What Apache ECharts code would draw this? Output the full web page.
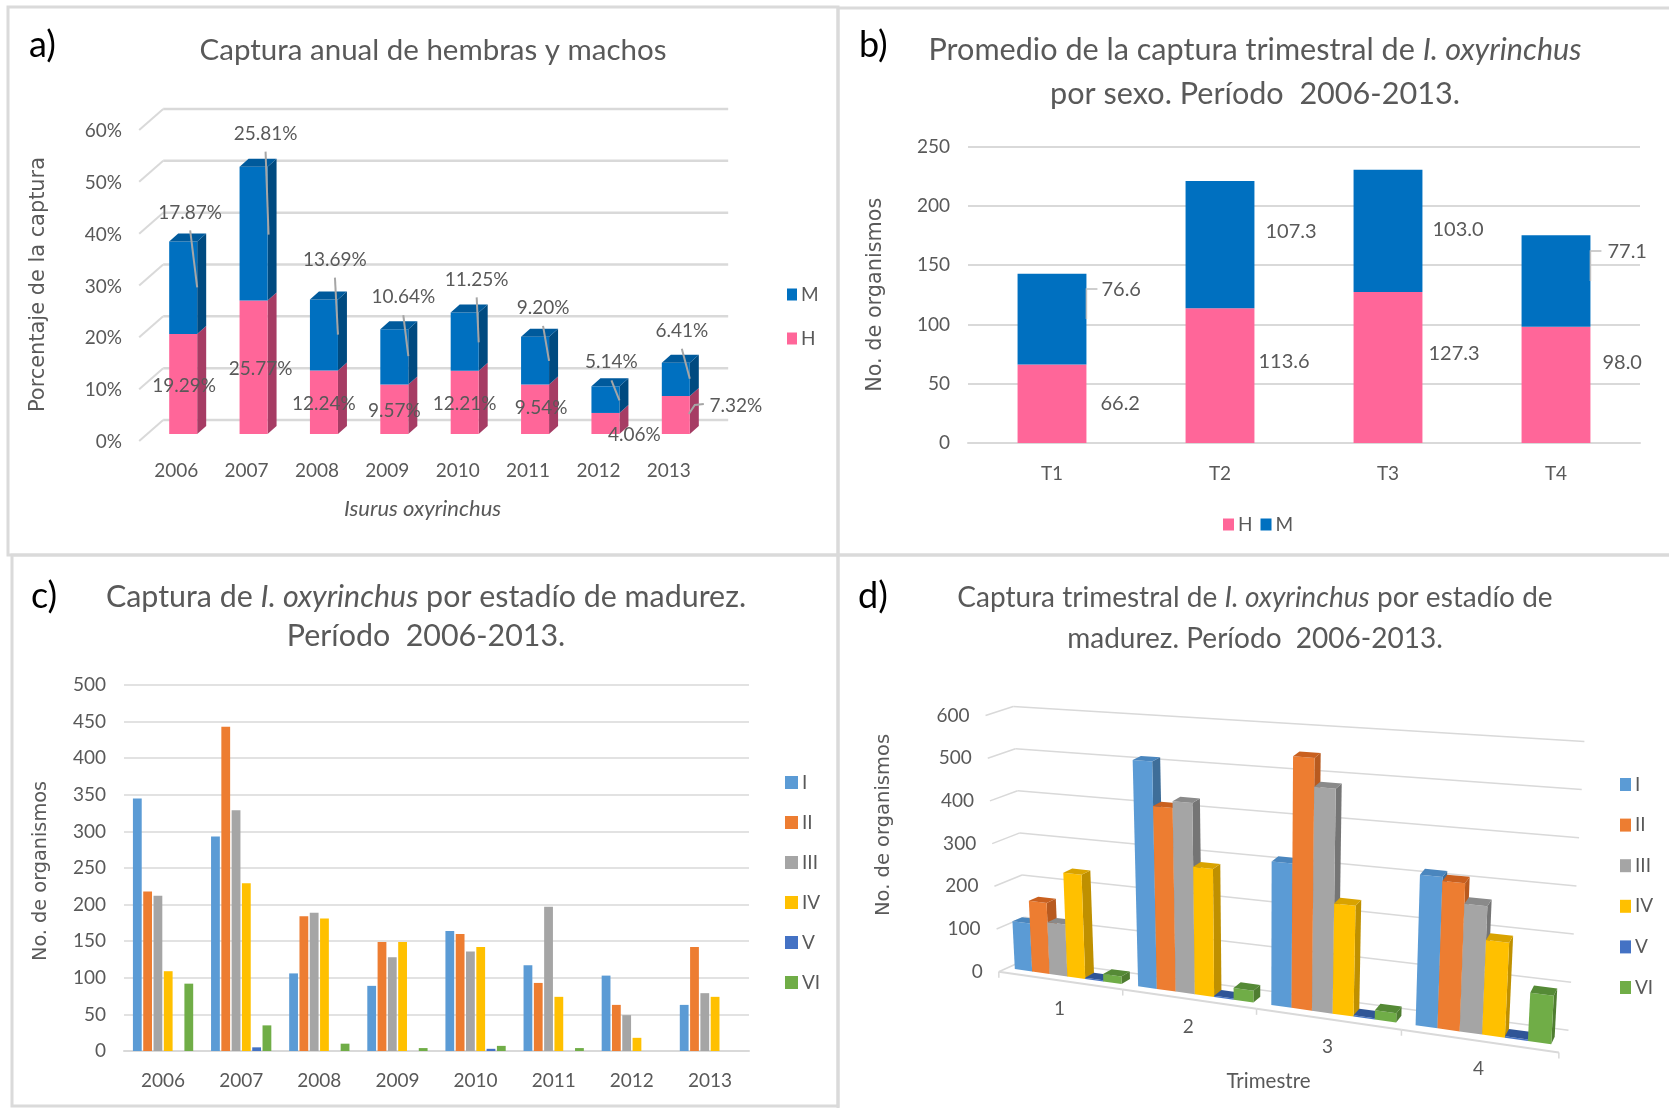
<!DOCTYPE html>
<html>
<head>
<meta charset="utf-8">
<style>html,body{margin:0;padding:0;background:#fff}#c{width:1669px;height:1108px}</style>
<script src="https://cdn.jsdelivr.net/npm/echarts@6/dist/echarts.min.js"></script>
</head>
<body>
<div id="c"></div>
<script>
// ---- data ----
const years = ['2006','2007','2008','2009','2010','2011','2012','2013'];
const hembrasPct = [19.29,25.77,12.24,9.57,12.21,9.54,4.06,7.32];
const machosPct = [17.87,25.81,13.69,10.64,11.25,9.20,5.14,6.41];
const pctTicks = [0,10,20,30,40,50,60];

const trimestres = ['T1','T2','T3','T4'];
const hembrasTri = [66.2,113.6,127.3,98.0];
const machosTri = [76.6,107.3,103.0,77.1];

const estadios = ['I','II','III','IV','V','VI'];
const estadioAnual = [
  [345,293,106,89,164,117,103,63],
  [218,443,184,149,160,93,63,142],
  [212,329,189,128,136,197,49,79],
  [109,229,181,149,142,74,18,74],
  [0,5,0,0,3,0,0,0],
  [92,35,10,4,7,4,0,0]
];
const trimestreNum = ['1','2','3','4'];
const estadioTri = [
  [112,515,316,320],
  [165,414,551,312],
  [120,429,488,269],
  [240,286,239,198],
  [3,3,3,3],
  [17,26,20,100]
];
const ticks3d = [0,100,200,300,400,500,600];

// ---- styles / layout ----
const NARROW = 'Lato,sans-serif';
const WIDE = '"DejaVu Sans",sans-serif';
const TXT = '#595959', GRID = '#D9D9D9';
const PINK = '#FF6699', PINK_S = '#A63C64', BLUE = '#0070C0', BLUE_S = '#004A80', BLUE_T = '#005A9C';
const STAGE = ['#5B9BD5','#ED7D31','#A5A5A5','#FFC000','#4472C4','#70AD47'];
const STAGE_S = ['#3E6E99','#B85A1F','#757575','#BF9000','#2F5597','#4F7D31'];
const STAGE_T = ['#4A86BE','#C9601F','#8A8A8A','#D9A300','#2F5597','#558A36'];
const FS_TICK = 19, FS_LABEL = 19;

// offsets of a) labels relative to top-centre of the bar segment
const mLabelOff = [[7,-29],[12,-33],[11,-40],[9,-32],[12,-33],[8,-29],[6,-24],[6,-32]];
const mLeaderEnd = [[14,46],[15,68],[14,35],[14,27],[14,30],[14,24],[14,14],[14,16]];
const hLabelOff = [[1,52],[7,68],[0,33],[0,26],[0,33],[6,23],[29,22],[60,10]];
// offsets of b) labels
const bHOff = [[14,0],[4,-14],[6,-14],[12,-22]];
const bMOff = [[15,-30],[11,-13],[10,-1],[17,-30]];
const bLeaders = [0,3];

// ---- helpers ----
const BAR_A = 28, DX_A = 9, DY_A = 8, SHIFT_A = 7;
function poly(points, fill){ return {type:'polygon', shape:{points}, style:{fill}, silent:true}; }
function seg(pts, stroke, w){ return {type:'polyline', shape:{points:pts}, style:{stroke, lineWidth:w, fill:null}, silent:true}; }
function txt(text,x,y,align,size,fill){ return {type:'text', silent:true, style:{text,x,y,textAlign:align||'center',textVerticalAlign:'middle',font:(size||FS_LABEL)+'px '+NARROW,fill:fill||TXT}}; }

function bar3dA(front, side, top){
  return function(params, api){
    const i = api.value(0);
    const a = api.coord([i, api.value(1)]), b = api.coord([i, api.value(2)]);
    const x0 = a[0]+SHIFT_A-BAR_A/2, x1 = x0+BAR_A, y0 = a[1], y1 = b[1];
    const ch = [
      poly([[x1,y0],[x1+DX_A,y0-DY_A],[x1+DX_A,y1-DY_A],[x1,y1]], side),
      poly([[x0,y0],[x1,y0],[x1,y1],[x0,y1]], front)
    ];
    if(top) ch.push(poly([[x0,y1],[x1,y1],[x1+DX_A,y1-DY_A],[x0+DX_A,y1-DY_A]], top));
    return {type:'group', children:ch};
  };
}

// d) projection: a hidden grid carries the scales; its plane is warped to the tilted view.
const GD = {left:940, top:650, width:657, height:350};
function warp(api, t, v, d){
  const p = api.coord([t, v]);
  const tn = (p[0]-GD.left)/GD.width*4, vn = (GD.top+GD.height-p[1])/GD.height*600;
  const fx = (213*tn+308)/(1-0.0369*tn);
  const s = (fx-308)/1054;
  const hb = (710+102*s)/600;
  const hpu = hb*(1+0.014*(1-d));
  const lean = (-25+55*s)/600;
  const X = fx + d*(52-34*s) + vn*lean;
  const Y = 1185+227*s + d*(-35-27*s) - vn*hpu;
  return [835+X/1.88, 550+Y/2.81];
}
const D0=0.3, D1=0.65, GAP_D=0.065, W_D=(1-2*GAP_D)/6;
function bar3dD(j){
  return function(params, api){
    const i=api.value(0), v=api.value(1);
    const t0=i+GAP_D+j*W_D, t1=t0+W_D;
    return {type:'group', children:[
      poly([warp(api,t1,0,D0),warp(api,t1,0,D1),warp(api,t1,v,D1),warp(api,t1,v,D0)], STAGE_S[j]),
      poly([warp(api,t0,0,D0),warp(api,t1,0,D0),warp(api,t1,v,D0),warp(api,t0,v,D0)], STAGE[j]),
      poly([warp(api,t0,v,D0),warp(api,t1,v,D0),warp(api,t1,v,D1),warp(api,t0,v,D1)], STAGE_T[j])
    ]};
  };
}

// ---- series ----
const series = [];
// a) wall
series.push({type:'custom', name:'wallA', xAxisIndex:0, yAxisIndex:0, silent:true, z:1,
  data: pctTicks.map(v=>[0,v]),
  renderItem(params, api){
    const p = api.coord([0, api.value(1)]);
    return {type:'group', children:[
      seg([[p[0]-37,p[1]+7],[p[0]-13,p[1]-14]], GRID, 2),
      seg([[p[0]-13,p[1]-14],[p[0]+552,p[1]-14]], GRID, 2.5)
    ]};
  }});
series.push({type:'custom', name:'H', xAxisIndex:0, yAxisIndex:0, z:3, itemStyle:{color:PINK},
  data: hembrasPct.map((v,i)=>[i,0,v]), renderItem: bar3dA(PINK,PINK_S,null), encode:{x:0,y:[1,2]}});
series.push({type:'custom', name:'M', xAxisIndex:0, yAxisIndex:0, z:3, itemStyle:{color:BLUE},
  data: machosPct.map((v,i)=>[i,hembrasPct[i],hembrasPct[i]+v]), renderItem: bar3dA(BLUE,BLUE_S,BLUE_T), encode:{x:0,y:[1,2]}});
series.push({type:'custom', name:'labelsA', xAxisIndex:0, yAxisIndex:0, silent:true, z:5,
  data: years.map((y,i)=>[i]),
  renderItem(params, api){
    const i = api.value(0);
    const h = hembrasPct[i], m = machosPct[i];
    const tm = api.coord([i,h+m]), th = api.coord([i,h]);
    const cx = tm[0]+SHIFT_A;
    const lm = [cx+mLabelOff[i][0], tm[1]+mLabelOff[i][1]];
    const lh = [cx+hLabelOff[i][0], th[1]+hLabelOff[i][1]];
    const ch = [
      seg([[lm[0],lm[1]+18],[cx+mLeaderEnd[i][0],tm[1]+mLeaderEnd[i][1]]], '#A6A6A6', 2),
      txt(m.toFixed(2)+'%', lm[0], lm[1]),
      txt(h.toFixed(2)+'%', lh[0], lh[1])
    ];
    if(i===7) ch.unshift(seg([[lh[0]-32,lh[1]-2],[lh[0]-41,lh[1]-1],[lh[0]-47,lh[1]+8]], '#A6A6A6', 2));
    return {type:'group', children:ch};
  }});

// b)
function barLabel(off){ return {show:true, position:'right', distance:off[0], offset:[0,off[1]], color:TXT, fontFamily:NARROW, fontSize:FS_LABEL+1, formatter:p=>p.value.toFixed(1)}; }
series.push({type:'bar', name:'H', xAxisIndex:1, yAxisIndex:1, stack:'b', barWidth:'41%', itemStyle:{color:PINK}, z:3,
  data: hembrasTri.map((v,i)=>({value:v,label:barLabel(bHOff[i])}))});
series.push({type:'bar', name:'M', xAxisIndex:1, yAxisIndex:1, stack:'b', barWidth:'41%', itemStyle:{color:BLUE}, z:3,
  data: machosTri.map((v,i)=>({value:v,label:barLabel(bMOff[i])}))});
series.push({type:'custom', name:'leadersB', xAxisIndex:1, yAxisIndex:1, silent:true, z:4,
  data: bLeaders.map(i=>[i]),
  renderItem(params, api){
    const i = api.value(0), h = hembrasTri[i], m = machosTri[i];
    const mid = api.coord([i,h+m/2]);
    const bw = api.size([1,0])[0]*0.41/2;
    const x = mid[0]+bw, y = mid[1]+bMOff[i][1];
    return seg([[x,mid[1]],[x,y],[x+11,y]], '#BFBFBF', 1.5);
  }});

// c)
estadios.forEach((n,j)=>{
  series.push({type:'bar', name:n, xAxisIndex:2, yAxisIndex:2, data:estadioAnual[j], itemStyle:{color:STAGE[j]},
    barWidth:8.8, barGap:'17%', z:3});
});

// d)
series.push({type:'custom', name:'frameD', xAxisIndex:3, yAxisIndex:3, silent:true, z:1,
  data: ticks3d.map(v=>[0,v]),
  renderItem(params, api){
    const v = api.value(1);
    const a = warp(api,0,v,0);
    return {type:'group', children:[
      seg([a, warp(api,0,v,1)], GRID, 1.5),
      seg([warp(api,0,v,1), warp(api,4,v,1)], GRID, 1.5),
      txt(String(v), a[0]-16, a[1], 'right', FS_TICK)
    ]};
  }});
series.push({type:'custom', name:'floorD', xAxisIndex:3, yAxisIndex:3, silent:true, z:1,
  data: [0,1,2,3,4].map(t=>[t]),
  renderItem(params, api){
    const t = api.value(0);
    const a = warp(api,t,0,0);
    const ch = [seg([a,[a[0],a[1]+6]], GRID, 1.5)];
    if(t<4){
      ch.push(seg([a, warp(api,t+1,0,0)], GRID, 2));
      const m = warp(api,t+0.5,0,0);
      ch.push(txt(trimestreNum[t], m[0], m[1]+28, 'center', FS_TICK));
    }
    return {type:'group', children:ch};
  }});
estadios.forEach((n,j)=>{
  series.push({type:'custom', name:n, xAxisIndex:3, yAxisIndex:3, z:3, itemStyle:{color:STAGE[j]},
    data: estadioTri[j].map((v,i)=>[i,v]), renderItem: bar3dD(j), encode:{x:0,y:1}});
});

// ---- option ----
function title(left, top, lh, fs, text){
  const s = {color:TXT, fontFamily:NARROW, fontSize:fs, lineHeight:lh};
  return {left, top, textAlign:'center', padding:0, text,
    textStyle:{color:TXT, fontFamily:NARROW, fontSize:fs, fontWeight:'normal', lineHeight:lh, rich:{a:s, i:Object.assign({},s,{fontStyle:'italic'})}}};
}
function legend(items, left, top, orient, gap, w, h){
  return {data:items, left, top, orient, itemGap:gap, itemWidth:w, itemHeight:h, icon:'rect', selectedMode:false, padding:0,
    textStyle:{color:TXT, fontFamily:NARROW, fontSize:FS_TICK, padding:[0,0,0,-1]}};
}
const axLabel = m => ({color:TXT, fontFamily:NARROW, fontSize:FS_TICK, margin:m});
const axName = (n,gap,fs,extra) => Object.assign({name:n, nameLocation:'middle', nameGap:gap, nameTextStyle:Object.assign({color:TXT, fontFamily:WIDE, fontSize:fs}, extra||{})});
const letter = (t,x,y)=>({type:'text', silent:true, style:{text:t,x,y,fill:'#000',font:'36px '+NARROW,textVerticalAlign:'middle'}});
const panel = (x,y,w,h)=>({type:'rect', silent:true, shape:{x,y,width:w,height:h}, style:{fill:null,stroke:'#DADADA',lineWidth:3}, z:-1});

const option = {
  animation:false, backgroundColor:'#fff',
  title:[
    title(433, 31, 38, 29.5, 'Captura anual de hembras y machos'),
    title(1255, 28, 44, 30.6, '{a|Promedio de la captura trimestral de }{i|I. oxyrinchus}\n{a|por sexo. Período  2006-2013.}'),
    title(426, 577, 39.5, 30.4, '{a|Captura de }{i|I. oxyrinchus}{a| por estadío de madurez.}\n{a|Período  2006-2013.}'),
    title(1255, 577, 41, 28, '{a|Captura trimestral de }{i|I. oxyrinchus}{a| por estadío de}\n{a|madurez. Período  2006-2013.}')
  ],
  legend:[
    legend(['M','H'], 787, 285, 'vertical', 25, 10, 12),
    legend(['H','M'], 1223, 515, 'horizontal', 8, 11, 12),
    legend(estadios, 785, 773, 'vertical', 21, 13, 13),
    legend(estadios, 1620, 775, 'vertical', 21.6, 11, 13)
  ],
  grid:[
    {left:141, width:563, top:123, height:311},
    {left:968, width:672, top:146.5, height:296.5},
    {left:124, width:625, top:685, height:366},
    {left:GD.left, width:GD.width, top:GD.top, height:GD.height}
  ],
  xAxis:[
    {gridIndex:0, type:'category', data:years, axisLine:{show:false}, axisTick:{show:false}, axisLabel:axLabel(27),
      name:'Isurus oxyrinchus', nameLocation:'middle', nameGap:64, nameTextStyle:{color:TXT, fontFamily:NARROW, fontSize:22, fontStyle:'italic'}},
    {gridIndex:1, type:'category', data:trimestres, axisLine:{lineStyle:{color:GRID,width:2}}, axisTick:{show:false}, axisLabel:axLabel(21)},
    {gridIndex:2, type:'category', data:years, axisLine:{lineStyle:{color:GRID,width:2}}, axisTick:{show:false}, axisLabel:axLabel(20)},
    {gridIndex:3, type:'value', min:0, max:4, interval:1, axisLine:{show:false}, axisTick:{show:false}, axisLabel:{show:false}, splitLine:{show:false},
      name:'Trimestre', nameLocation:'middle', nameGap:71, nameTextStyle:{color:TXT, fontFamily:NARROW, fontSize:20.5}}
  ],
  yAxis:[
    Object.assign({gridIndex:0, type:'value', min:0, max:60, interval:10, splitLine:{show:false}, axisLine:{show:false}, axisTick:{show:false},
      axisLabel:Object.assign(axLabel(19),{formatter:'{value}%', verticalAlign:'top', lineHeight:16})}, axName('Porcentaje de la captura',92,20.9,{padding:[0,12,0,0]})),
    Object.assign({gridIndex:1, type:'value', min:0, max:250, interval:50, splitLine:{lineStyle:{color:GRID,width:2}}, axisLine:{show:false}, axisTick:{show:false},
      axisLabel:axLabel(18)}, axName('No. de organismos',82,20.8)),
    Object.assign({gridIndex:2, type:'value', min:0, max:500, interval:50, splitLine:{lineStyle:{color:GRID,width:1.5}}, axisLine:{show:false}, axisTick:{show:false},
      axisLabel:axLabel(18)}, axName('No. de organismos',74,19.3,{padding:[0,6,0,0]})),
    Object.assign({gridIndex:3, type:'value', min:0, max:600, interval:100, splitLine:{show:false}, axisLine:{show:false}, axisTick:{show:false},
      axisLabel:{show:false}}, axName('No. de organismos',46,19.5))
  ],
  series,
  graphic:[
    panel(8,7,830,548), panel(838,8,840,547), panel(12,555,826,551), panel(838,555,840,560),
    letter('a)',29,45), letter('b)',859,45), letter('c)',31,596), letter('d)',858,596)
  ]
};
const chart = echarts.init(document.getElementById('c'), null, {renderer:'canvas'});
chart.setOption(option);
</script>
</body>
</html>
